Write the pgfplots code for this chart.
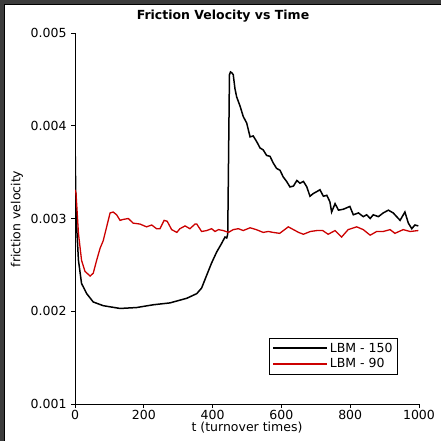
\documentclass[border=0pt]{standalone}
\usepackage{fontspec}
\setmainfont{DejaVu Sans}
\usepackage{pgfplots}
\pgfplotsset{compat=1.18}
\definecolor{frame}{HTML}{3C3C3C}
\definecolor{lbmred}{HTML}{CC0000}
\newcommand{\fs}{\fontsize{12.5}{14}\selectfont}

\begin{document}
\begin{tikzpicture}[x=1pt,y=1pt]
\useasboundingbox (0,0) rectangle (441,441);
\fill[white] (0,0) rectangle (441,441);
\fill[frame] (0,437) rectangle (441,441);
\fill[frame] (0,0) rectangle (4,441);
\draw[black, line width=0.8pt] (4.4,0) -- (4.4,436.6) -- (441,436.6);
\node[font=\fs\bfseries] at (223,425) {Friction Velocity vs Time};
\node[font=\fs] at (247,13) {t (turnover times)};
\node[font=\fs, rotate=90] at (17,222) {friction velocity};
\begin{axis}[at={(75pt,37pt)}, anchor=south west, scale only axis,
  width=344pt, height=371pt,
  xmin=0, xmax=1000, ymin=0.001, ymax=0.005,
  axis lines=left, axis line style={-, line width=0.8pt},
  xtick={0,200,400,600,800,1000},
  ytick={0.001,0.002,0.003,0.004,0.005},
  scaled y ticks=false,
  yticklabel style={xshift=-1pt, /pgf/number format/.cd, fixed, precision=3, fixed zerofill},
  xticklabel style={yshift=1pt, /pgf/number format/.cd, 1000 sep={}},
  /pgf/number format/assume math mode=true,
  tick label style={font=\fs, black},
  tick align=outside, major tick length=4pt,
  tick style={black, line width=0.8pt},
  clip=true,
  legend cell align=left,
  legend image code/.code={\draw[#1, line width=1.6pt] (0pt,0pt) -- (54pt,0pt);},
  legend style={at={(0.937,0.178)}, anchor=north east, font=\fs,
    draw=black, line width=0.6pt, fill=white, inner sep=2.5pt,
    row sep=1pt, nodes={inner sep=2pt}},
]
\addplot[black, line width=1.5pt] coordinates {
(0,0.00388) (2,0.0033) (5,0.0029) (10,0.00255) (19,0.00230) (34,0.00219)
(53,0.00210) (82,0.00206) (131,0.00203) (179,0.00204) (228,0.00207)
(276,0.00209) (325,0.00214) (354,0.00219) (368,0.00225) (383,0.00239)
(397,0.00252) (412,0.00264) (426,0.00273) (436,0.00280) (441,0.00279)
(444,0.00283) (449,0.00455) (452,0.00458) (456,0.00457) (460,0.00455)
(465,0.00440) (470,0.00431) (480,0.00421) (489,0.00410) (499,0.00403)
(509,0.00388) (518,0.00389) (528,0.00383) (538,0.00376) (547,0.00374)
(557,0.00368) (567,0.00367) (576,0.00360) (586,0.00354) (596,0.00352)
(605,0.00345) (615,0.00340) (625,0.00334) (635,0.00335) (645,0.00341)
(654,0.00338) (664,0.00340) (674,0.00334) (683,0.00324) (693,0.00327)
(703,0.00329) (712,0.00331) (722,0.00324) (732,0.00325) (741,0.00318)
(746,0.00307) (756,0.00316) (766,0.00309) (780,0.00310) (799,0.00313)
(809,0.00304) (824,0.00306) (838,0.00302) (848,0.00304) (858,0.00300)
(867,0.00304) (882,0.00302) (896,0.00306) (911,0.00309) (925,0.00306)
(945,0.00298) (959,0.00307) (969,0.00295) (979,0.00289) (988,0.00293)
(998,0.00292)
};
\addlegendentry{LBM - 150}
\addplot[lbmred, line width=1.3pt] coordinates {
(0,0.00331) (3,0.00327) (10,0.00284) (19,0.00255) (29,0.00243) (44,0.00238)
(53,0.00241) (63,0.00255) (73,0.00268) (82,0.00276) (92,0.00291)
(102,0.00306) (111,0.00307) (121,0.00304) (131,0.00298) (140,0.00299)
(155,0.00300) (169,0.00295) (189,0.00294) (208,0.00291) (223,0.00293)
(237,0.00289) (247,0.00289) (259,0.00298) (268,0.00297) (281,0.00288)
(296,0.00285) (305,0.00289) (320,0.00292) (334,0.00289) (349,0.00294)
(354,0.00294) (368,0.00286) (383,0.00287) (397,0.00289) (407,0.00286)
(417,0.00288) (431,0.00287) (446,0.00285) (460,0.00288) (475,0.00289)
(489,0.00287) (509,0.00290) (527,0.00288) (547,0.00285) (562,0.00286)
(576,0.00285) (595,0.00284) (620,0.00291) (635,0.00288) (650,0.00285)
(664,0.00283) (684,0.00286) (703,0.00287) (720,0.00287) (736,0.00283)
(756,0.00287) (775,0.00280) (794,0.00288) (819,0.00291) (838,0.00288)
(858,0.00282) (877,0.00286) (896,0.00286) (916,0.00288) (930,0.00284)
(954,0.00288) (974,0.00286) (998,0.00287)
};
\addlegendentry{LBM - 90}
\end{axis}
\end{tikzpicture}
\end{document}
